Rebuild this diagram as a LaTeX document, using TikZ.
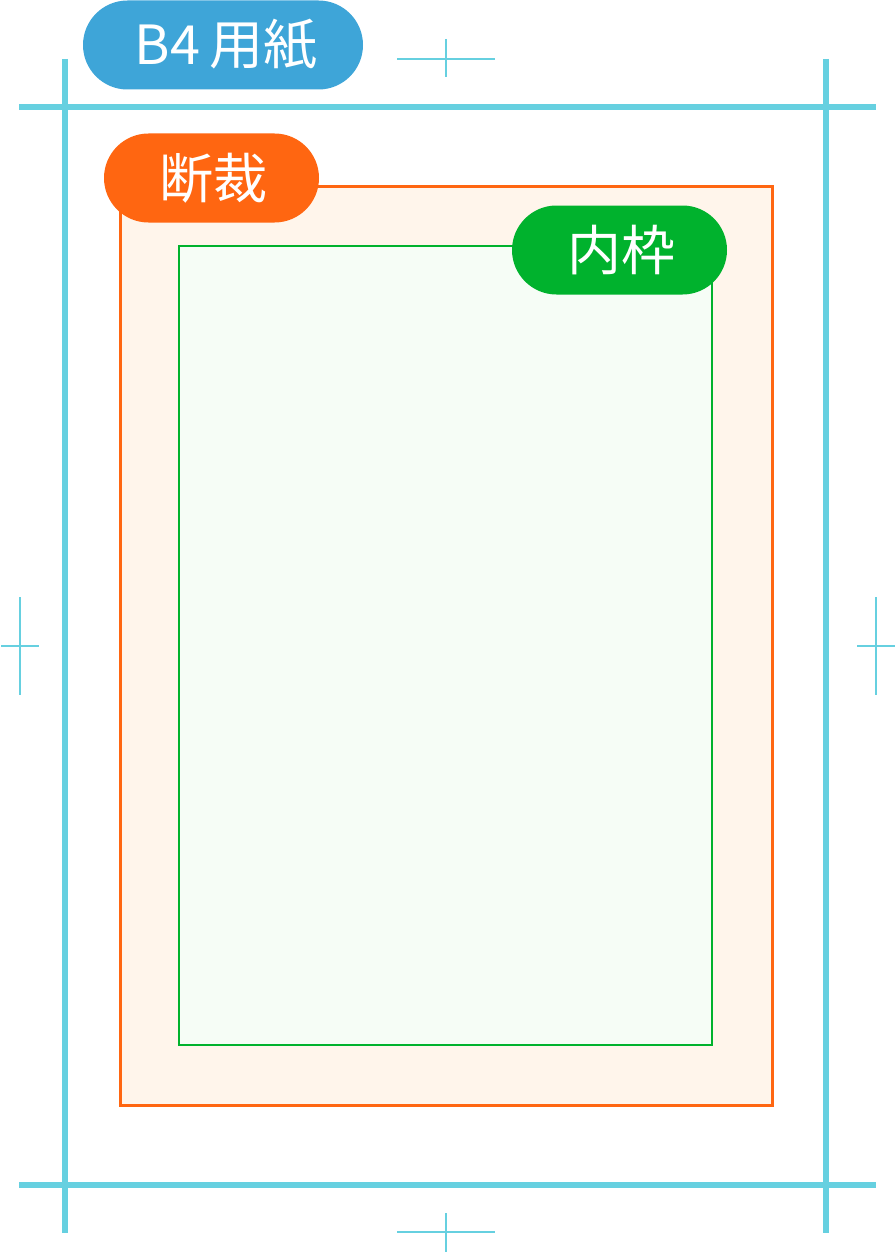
\documentclass[tikz,border=0pt]{standalone}
\usepackage{fontspec}
\newfontfamily\cjk{Noto Sans CJK JP}
\definecolor{cyanline}{RGB}{102,208,224}
\definecolor{bluepill}{RGB}{62,165,216}
\definecolor{orangeline}{RGB}{255,102,17}
\definecolor{orangefill}{RGB}{255,245,235}
\definecolor{greenline}{RGB}{0,178,45}
\definecolor{greenfill}{RGB}{246,253,246}
\tikzset{
  trimline/.style={draw=cyanline, line width=6pt},
  regmark/.style={draw=cyanline, line width=1.8pt},
  pill/.style={rectangle, rounded corners=44.5pt, minimum height=89pt, inner sep=0pt,
    text=white, font=\cjk\fontsize{54}{60}\selectfont},
}
\begin{document}
\begin{tikzpicture}[x=1pt,y=-1pt]
\useasboundingbox (0,0) rectangle (895,1252);
% trim lines
\draw[trimline] (65,59) -- (65,1233);
\draw[trimline] (826,59) -- (826,1233);
\draw[trimline] (19,107) -- (876,107);
\draw[trimline] (19,1185) -- (876,1185);
% registration marks
\draw[regmark] (397,59) -- (495,59) (446,39) -- (446,77);
\draw[regmark] (397,1232) -- (495,1232) (446,1213) -- (446,1252);
\draw[regmark] (1,646) -- (39,646) (20,597) -- (20,695);
\draw[regmark] (857,646) -- (895,646) (876,597) -- (876,695);
% bleed / trim box
\draw[draw=orangeline, fill=orangefill, line width=3pt] (120,187) rectangle (772,1105);
% inner frame
\draw[draw=greenline, fill=greenfill, line width=1.5pt] (179,246) rectangle (712,1045);
% labels
\node[pill, fill=bluepill, minimum width=280pt] (b4) at (223,45) {\hspace*{6pt}B4\,用紙};
\node[pill, fill=orangeline, minimum width=215pt] (dansai) at (211.5,178) {\hspace*{3pt}断裁};
\node[pill, fill=greenline, minimum width=215pt] (uchiwaku) at (619.5,250) {\hspace*{3pt}内枠};
\end{tikzpicture}
\end{document}
